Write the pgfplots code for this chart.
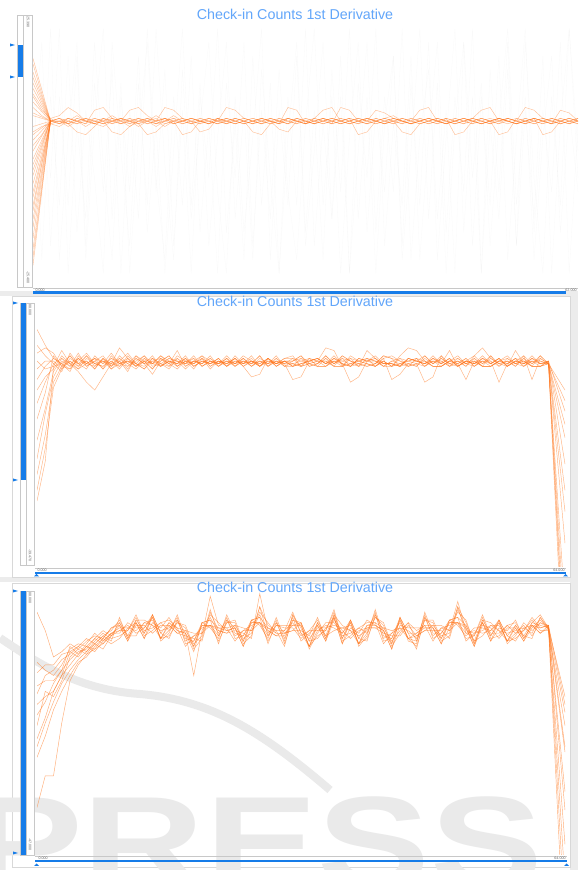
\documentclass[border=0pt]{standalone}
\usepackage{pgfplots}
\pgfplotsset{compat=1.18}
\usepackage{pgfplotstable}
\usepackage{fontspec}
\setmainfont{Liberation Sans}
\definecolor{orl}{RGB}{255,118,28}
\definecolor{bluebar}{RGB}{22,124,232}
\definecolor{titleblue}{RGB}{98,166,250}
\definecolor{bg}{RGB}{236,236,236}
\definecolor{frm}{RGB}{200,200,200}
\definecolor{wm}{RGB}{234,234,234}

\pgfplotstableread{
x a b c d e f g h i j k l m n o p
0 82 75 70 66 57 52 47 41 35 28 18 8 50 20 80 60
1 71 68 65 63 59 56 54 51 48 45 40 35 90 75 10 30
2 61 61 62 61 60 61 61 62 60 61 61 61 15 40 70 95
3 62 60 63 61 59 62 61 60 61 62 60 61 70 95 30 10
4 60 62 66 60 61 60 62 61 59 61 62 60 30 5 85 55
5 61 61 64 62 60 57 61 63 61 60 61 62 85 60 20 90
6 62 60 61 61 62 56 60 61 62 61 59 61 10 25 65 15
7 60 62 61 60 61 59 65 60 61 62 61 60 60 90 40 75
8 61 61 60 62 60 62 66 59 60 61 62 61 95 45 5 35
9 63 60 61 61 61 60 62 61 62 57 61 62 25 10 90 80
10 61 62 62 60 62 61 61 62 61 56 60 60 75 70 50 5
11 59 61 61 62 61 62 60 60 65 59 61 61 5 35 15 65
12 61 60 60 61 59 60 62 61 66 61 62 62 55 85 75 25
13 62 56 62 60 61 61 61 62 63 61 61 60 90 20 30 95
14 60 57 61 61 62 59 60 61 61 63 60 61 35 60 95 40
15 61 60 59 62 60 61 61 66 62 61 62 62 80 5 45 10
16 62 61 61 60 61 63 62 65 61 60 61 60 15 50 10 70
17 61 61 62 61 62 61 60 62 60 61 56 61 65 95 80 30
18 60 62 60 62 61 60 61 61 61 62 57 62 5 30 25 85
19 61 61 61 61 60 62 57 60 62 61 61 61 70 75 60 20
20 62 60 62 60 62 61 58 61 61 60 61 60 40 15 90 60
21 61 62 61 62 61 60 62 62 60 61 60 61 95 55 35 5
22 60 61 60 61 66 62 61 60 61 62 61 62 20 90 5 75
23 61 60 62 60 65 61 60 61 62 61 62 61 60 25 70 40
24 62 61 61 61 62 60 61 62 61 60 61 60 10 65 20 90
25 61 62 60 57 61 61 62 61 60 61 60 61 85 10 55 15
26 60 61 62 56 60 62 61 60 61 62 61 62 30 80 95 65
27 61 60 61 60 62 61 60 61 62 61 62 61 75 40 10 25
28 58 61 60 62 61 60 61 62 61 60 61 60 5 5 65 80
29 57 62 62 61 60 62 62 61 60 66 60 61 55 70 30 35
30 61 61 61 60 62 61 61 60 62 65 61 62 90 30 85 10
31 61 60 60 62 61 60 60 61 61 60 62 61 20 95 15 60
32 60 62 61 61 60 62 61 62 60 61 61 60 65 15 50 95
33 61 61 62 60 61 65 62 61 62 62 60 61 10 60 90 30
34 62 60 60 61 62 66 61 60 61 61 61 62 80 25 25 70
35 61 66 61 62 61 61 60 61 60 60 62 61 35 85 70 5
36 60 65 62 61 60 62 61 62 61 61 61 60 95 5 5 55
37 61 61 61 60 61 61 62 56 62 62 60 61 25 50 75 90
38 62 60 60 62 62 60 61 57 61 61 61 62 70 90 40 20
39 61 61 62 61 61 61 60 61 65 60 62 61 5 20 95 65
40 60 62 61 60 60 62 61 62 64 61 61 60 60 70 15 35
41 61 63 60 62 61 61 62 61 62 62 60 61 85 35 60 85
42 62 61 62 61 62 60 61 60 61 61 61 57 15 95 30 10
43 61 60 61 60 61 62 60 61 60 60 62 56 75 10 85 50
44 60 61 65 62 60 61 61 62 61 61 61 60 30 55 10 95
45 61 62 66 61 61 60 62 61 62 62 60 61 90 80 55 25
46 62 61 61 60 62 61 61 60 61 61 61 62 10 25 90 75
47 61 60 60 62 61 62 60 61 60 60 62 61 55 65 20 5
48 60 61 62 61 60 56 61 62 61 61 61 60 95 5 70 60
49 61 62 61 60 61 57 62 61 62 62 60 61 20 90 35 90
50 62 61 60 62 62 61 61 60 61 61 61 62 70 40 95 15
51 65 60 62 61 61 62 60 61 60 60 62 61 5 75 5 70
52 66 61 61 60 60 61 61 62 61 61 61 60 80 15 60 30
53 61 62 60 62 61 60 62 61 62 62 56 61 35 60 25 85
54 62 61 62 61 62 61 61 60 61 61 57 62 90 95 80 10
55 61 60 61 60 61 62 60 61 60 60 62 61 15 30 15 55
56 60 61 60 62 66 61 61 62 61 61 61 60 65 70 90 95
57 61 62 62 61 65 60 62 61 62 62 60 61 25 10 40 20
58 62 61 61 60 62 61 61 60 61 56 61 62 85 55 5 65
59 61 60 60 62 61 62 60 61 60 57 62 61 5 85 70 35
60 60 65 62 61 60 61 61 62 61 61 61 60 60 20 30 90
61 61 64 61 60 61 60 62 61 62 62 60 61 95 65 95 5
62 61 61 60 62 62 61 61 60 61 61 61 62 40 35 50 60
}\tblA

\pgfplotstableread{
x a b c d e f g h i j k l m n
0 90 84 81 78 75 71 67 62 56 48 41 35 29 25
1 84 80 83 75 78 76 72 70 66 60 58 50 45 40
2 79 77 81 76 78 79 75 77 80 74 72 70 68 76
3 77 79 76 82 75 77 80 74 76 79 78 76 75 77
4 80 76 78 77 79 74 77 81 75 77 76 80 78 75
5 76 78 75 79 77 80 75 77 79 74 81 77 76 79
6 78 81 77 76 80 77 79 75 77 70 76 78 80 77
7 75 77 79 78 76 79 77 80 76 67 78 75 77 79
8 79 76 77 80 78 75 78 77 79 72 75 79 76 78
9 77 79 81 76 77 78 76 79 75 77 80 76 78 75
10 76 78 77 79 83 76 80 77 78 79 77 78 75 77
11 80 75 78 77 79 78 77 76 81 76 79 74 79 78
12 77 79 76 80 76 77 75 79 77 78 76 80 77 76
13 75 77 79 78 78 80 78 77 76 80 78 77 75 79
14 78 80 77 75 77 76 79 73 79 77 75 78 79 77
15 79 76 78 79 80 77 76 78 77 76 79 76 77 80
16 76 78 80 77 78 79 78 80 75 78 77 79 76 77
17 78 77 76 79 76 78 77 76 79 77 82 78 80 75
18 77 79 78 76 79 75 80 78 77 79 76 77 78 78
19 80 76 77 78 77 78 76 79 78 76 78 79 75 77
20 76 78 79 77 80 77 78 76 80 78 77 76 79 79
21 78 77 75 80 78 79 77 78 76 77 79 78 77 76
22 77 79 78 76 76 77 79 77 78 79 76 77 78 78
23 79 76 77 78 79 78 76 80 77 76 78 79 76 77
24 76 80 79 77 77 76 78 77 79 78 77 76 79 79
25 78 77 76 79 80 79 77 78 76 77 79 78 77 76
26 77 78 78 76 78 77 80 76 78 79 76 77 78 72
27 80 76 77 78 76 78 76 79 77 76 78 80 76 73
28 76 79 79 77 79 76 78 77 79 78 77 76 79 79
29 78 77 76 80 77 79 77 78 76 77 79 78 77 76
30 77 78 78 76 78 77 79 76 78 79 76 77 78 78
31 79 76 77 76 78 71 80 77 76 79 78 77 76 78
32 78 77 76 79 80 72 76 78 77 76 79 76 77 80
33 77 78 79 78 77 78 77 79 78 77 76 79 78 76
34 76 79 78 77 76 79 78 76 79 78 77 78 79 77
35 76 77 78 80 79 77 78 76 77 83 80 76 77 79
36 79 78 76 77 76 79 76 78 80 82 77 78 79 77
37 78 77 76 79 80 77 76 78 77 76 79 76 77 80
38 79 76 77 76 78 76 80 77 76 79 78 77 70 78
39 76 79 78 77 76 79 78 76 79 78 77 78 72 77
40 82 78 79 78 77 78 77 79 78 77 76 79 78 76
41 79 78 76 77 76 79 76 78 80 76 77 78 79 77
42 76 77 78 80 79 77 78 76 77 78 80 76 77 79
43 78 77 76 79 80 77 76 78 77 76 79 76 77 71
44 79 76 77 76 78 76 80 77 76 79 78 77 76 73
45 76 79 78 77 76 79 83 76 79 78 77 78 79 77
46 77 78 79 78 77 78 82 79 78 77 76 79 78 76
47 76 77 78 80 70 77 78 76 77 78 80 76 77 79
48 79 78 76 77 72 79 76 78 80 76 77 78 79 77
49 78 77 76 79 80 77 76 78 77 76 79 76 77 80
50 76 79 78 77 76 79 78 76 82 78 77 78 79 77
51 79 76 77 76 78 76 80 77 76 79 78 77 76 78
52 77 78 71 78 77 78 77 79 78 77 76 79 78 76
53 76 77 78 80 79 77 78 76 77 78 80 76 77 79
54 79 78 76 77 76 79 76 78 80 76 83 78 79 77
55 78 77 76 79 80 77 76 78 77 76 79 76 77 80
56 76 79 78 77 76 79 78 70 79 78 77 78 79 77
57 79 76 77 76 78 76 80 77 76 79 78 77 76 78
58 77 82 79 78 77 78 77 79 78 77 76 79 78 76
59 76 77 78 80 79 77 78 76 77 78 80 76 77 79
60 79 78 76 71 76 79 76 78 80 76 77 78 79 77
61 78 77 76 79 80 77 76 78 77 76 79 76 77 80
62 77 77 78 77 77 78 77 77 78 77 77 78 77 77
64 67 63 59 54 49 39 29 21 9 -15 -25 -35 -40 -50
}\tblB

\pgfplotstableread{
x a b c d e f g h i j k l
0 92 73 69 64 61 57 53 49 44 41 37 18
1 85 70 72 66 68 60 58 62 52 50 45 30
2 75 68 72 66 70 62 65 60 62 58 55 30
3 77 72 76 70 74 68 70 66 68 65 62 50
4 80 78 77 79 76 77 74 75 72 70 68 66
5 78 80 79 76 79 75 77 78 76 74 73 72
6 81 79 82 80 77 79 78 76 79 77 75 76
7 83 82 80 84 81 78 82 80 77 80 79 78
8 82 85 83 81 84 82 80 83 81 78 82 80
9 86 83 85 84 82 86 84 81 84 83 80 83
10 88 85 89 86 83 87 84 90 85 88 82 87
11 82 87 83 86 85 81 88 82 85 83 86 81
12 88 84 89 85 91 87 86 88 90 83 88 89
13 82 86 85 88 84 87 86 82 83 88 84 89
14 91 90 86 87 90 84 91 88 85 89 91 87
15 84 82 88 85 82 87 81 86 88 82 84 82
16 88 85 89 86 83 87 84 90 85 88 82 87
17 85 90 86 89 88 84 91 85 88 86 89 84
18 84 80 85 81 87 83 82 84 86 79 84 85
19 77 81 80 83 79 82 81 68 78 83 79 84
20 88 87 83 84 87 81 88 85 82 86 88 84
21 89 87 98 90 87 92 86 91 93 87 89 87
22 86 83 87 84 81 85 82 88 83 86 80 85
23 85 90 86 89 88 84 91 85 88 86 89 84
24 86 82 87 83 89 85 84 86 88 81 86 87
25 79 83 82 85 81 84 83 79 80 85 81 86
26 89 88 84 85 88 82 89 86 83 87 89 85
27 90 88 94 91 88 99 87 92 94 88 90 88
28 86 83 87 84 81 85 82 88 83 86 80 85
29 84 89 85 88 87 83 90 84 87 85 88 83
30 84 80 85 81 87 83 82 84 86 79 84 85
31 85 89 88 91 87 90 89 85 86 91 87 92
32 88 87 83 84 87 81 88 85 82 86 88 84
33 81 79 85 82 79 84 78 83 85 79 81 79
34 88 85 89 86 83 87 84 90 85 88 82 87
35 82 87 83 86 85 81 88 82 85 83 86 81
36 90 86 91 87 93 89 88 90 92 85 90 91
37 80 84 83 86 82 85 84 80 81 86 82 87
38 89 88 84 85 88 82 89 86 83 87 89 85
39 82 80 86 83 80 85 79 84 86 80 82 80
40 87 84 88 85 82 86 83 89 84 87 81 86
41 87 92 88 91 90 86 93 87 90 88 91 86
42 85 81 86 82 88 84 83 85 87 80 85 86
43 78 82 81 84 80 83 82 78 79 84 80 85
44 90 89 85 86 89 83 90 87 84 88 90 86
45 84 82 88 85 82 87 81 86 88 82 84 82
46 84 81 85 82 79 83 80 86 81 84 78 83
47 86 91 87 90 89 85 92 86 89 87 90 85
48 86 82 87 83 89 85 84 86 88 81 86 87
49 80 84 83 86 82 85 84 80 81 86 82 87
50 89 88 84 85 88 82 89 86 83 87 89 85
51 90 88 94 96 88 93 87 92 94 88 90 88
52 87 84 88 85 82 86 83 89 84 87 81 86
53 80 85 81 84 83 79 86 80 83 81 84 79
54 88 84 89 85 91 87 86 88 90 83 88 89
55 81 85 84 87 83 86 85 81 82 87 83 88
56 89 88 84 85 88 82 89 86 83 87 89 85
57 83 81 87 84 81 86 80 85 87 81 83 81
58 87 84 88 85 82 86 83 89 84 87 81 86
59 82 87 83 86 85 81 88 82 85 83 86 81
60 87 83 88 84 90 86 85 87 89 82 87 88
61 84 88 87 90 86 89 88 84 85 90 86 91
62 86 87 86 85 87 86 86 87 85 86 87 86
64 60 57 54 49 41 39 24 17 4 -10 -25 -40
}\tblC

\pgfplotsset{
  panel/.style={scale only axis, hide axis, clip=true, ymin=0, ymax=100},
  oline/.style={orl, line width=0.45pt, opacity=0.55},
  gline/.style={black, line width=0.3pt, opacity=0.025},
}
\newcommand{\tinyl}{\fontsize{3.6}{4}\selectfont\color{black!60}}

\begin{document}
\begin{tikzpicture}
\begin{scope}[x=1pt,y=1pt]
\fill[bg] (0,0) rectangle (578,870);
% panel backgrounds
\fill[white] (0,579) rectangle (578,870);
\fill[white] (0,293) rectangle (570,574);
\draw[frm!70, line width=0.4pt] (12,293) rectangle (570,574);
\fill[white] (0,0) rectangle (570,288);
\draw[frm!70, line width=0.4pt] (12,3) rectangle (570,287);
% watermark in panel 3
\begin{scope}
\clip (0,0) rectangle (570,288);
\draw[wm, line width=8pt] (0,232) .. controls (40,205) and (80,180) .. (140,176) .. controls (210,170) and (260,140) .. (330,80);
\node[anchor=base west, xscale=1.3, text=wm, inner sep=0pt] at (-30,-17) {\fontsize{130}{130}\selectfont\bfseries PRESS};
\end{scope}
% panel 1 decorations
\draw[frm, line width=0.4pt, fill=white] (17,583) rectangle (23,855);
\draw[frm, line width=0.4pt, fill=white] (23,583) rectangle (32,855);
\fill[bluebar] (18,793) rectangle (22.5,825);
\fill[bluebar] (10,826.5) -- (15,825) -- (10,823.5) -- cycle;
\fill[bluebar] (10,794.5) -- (15,793) -- (10,791.5) -- cycle;
\node[rotate=-90, anchor=west, inner sep=0.5pt] at (28,854) {\tinyl 25.390};
\node[rotate=-90, anchor=east, inner sep=0.5pt] at (28,586) {\tinyl -25.480};
% panel 2 decorations
\draw[frm, line width=0.4pt, fill=white] (20.5,305) rectangle (26,567);
\draw[frm, line width=0.4pt, fill=white] (26,305) rectangle (34,567);
\fill[bluebar] (21,390) rectangle (25.5,567);
\fill[bluebar] (13,568.5) -- (18,567) -- (13,565.5) -- cycle;
\fill[bluebar] (13,391.5) -- (18,390) -- (13,388.5) -- cycle;
\node[rotate=-90, anchor=west, inner sep=0.5pt] at (30,566) {\tinyl 88.000};
\node[rotate=-90, anchor=east, inner sep=0.5pt] at (30,308) {\tinyl -39.470};
% panel 3 decorations
\draw[frm, line width=0.4pt, fill=white] (20.5,15) rectangle (26,279);
\draw[frm, line width=0.4pt, fill=white] (26,15) rectangle (34,279);
\fill[bluebar] (21,15) rectangle (25.5,279);
\fill[bluebar] (13,280.5) -- (18,279) -- (13,277.5) -- cycle;
\fill[bluebar] (13,18.5) -- (18,17) -- (13,15.5) -- cycle;
\node[rotate=-90, anchor=west, inner sep=0.5pt] at (30,278) {\tinyl 88.000};
\node[rotate=-90, anchor=east, inner sep=0.5pt] at (30,19) {\tinyl -47.000};
\end{scope}

% ---------- panel 1 ----------
\begin{axis}[panel, at={(33pt,583pt)}, anchor=south west, width=545pt, height=272pt, xmin=0, xmax=62]
\pgfplotsinvokeforeach{m,n,o,p}{\addplot[gline] table[x=x,y=#1]{\tblA};}
\pgfplotsinvokeforeach{84,79,77,73,71,68,64,63,59,56,54,50,45,43,38,33,30,25,22,14,11}{
  \addplot[oline, opacity=0.45] coordinates {(0,#1) (2,61)};}
\pgfplotsinvokeforeach{a,b,c,d,e,f,g,h,i,j,k,l}{\addplot[oline, opacity=0.45] table[x=x,y=#1]{\tblA};}
\end{axis}

% ---------- panel 2 ----------
\begin{axis}[panel, at={(37pt,303pt)}, anchor=south west, width=528pt, height=264pt, xmin=0, xmax=64]
\pgfplotsinvokeforeach{a,b,c,d,e,f,g,h,i,j,k,l,m,n}{\addplot[oline] table[x=x,y=#1]{\tblB};}
\end{axis}

% ---------- panel 3 ----------
\begin{axis}[panel, at={(37pt,15pt)}, anchor=south west, width=528pt, height=264pt, xmin=0, xmax=64]
\pgfplotsinvokeforeach{a,b,c,d,e,f,g,h,i,j,k,l}{\addplot[oline, opacity=0.6] table[x=x,y=#1]{\tblC};}
\end{axis}

\begin{scope}[x=1pt,y=1pt]
% panel 1 axis bottom and title
\draw[frm, line width=0.5pt] (33,582) -- (578,582);
\node[anchor=north west, inner sep=0.3pt] at (35,581.5) {\tinyl 0.000};
\node[anchor=north east, inner sep=0.3pt] at (577,581.5) {\tinyl 62.000};
\draw[bluebar, line width=2.2pt] (33,577.5) -- (566,577.5);
\node[anchor=base, inner sep=0pt] at (295,850) {\fontsize{14.3}{16}\selectfont\color{titleblue}Check-in Counts 1st Derivative};
% panel 2
\draw[frm, line width=0.5pt] (35,302) -- (566,302);
\node[anchor=north west, inner sep=0.3pt] at (37,301.5) {\tinyl 0.000};
\node[anchor=north east, inner sep=0.3pt] at (565,301.5) {\tinyl 64.000};
\draw[bluebar, line width=2.4pt] (35,297) -- (566,297);
\fill[bluebar] (34,293.5) -- (36.5,296) -- (39,293.5) -- cycle;
\fill[bluebar] (563,293.5) -- (565.5,296) -- (568,293.5) -- cycle;
\node[anchor=base, inner sep=0pt] at (295,563) {\fontsize{14.3}{16}\selectfont\color{titleblue}Check-in Counts 1st Derivative};
% panel 3
\draw[frm, line width=0.5pt] (35,14) -- (567,14);
\node[anchor=north west, inner sep=0.3pt] at (38,13.5) {\tinyl 0.000};
\node[anchor=north east, inner sep=0.3pt] at (566,13.5) {\tinyl 64.000};
\draw[bluebar, line width=2.4pt] (35,9) -- (567,9);
\fill[bluebar] (34,4) -- (36.5,6.5) -- (39,4) -- cycle;
\fill[bluebar] (564,4) -- (566.5,6.5) -- (569,4) -- cycle;
\node[anchor=base, inner sep=0pt] at (295,277) {\fontsize{14.3}{16}\selectfont\color{titleblue}Check-in Counts 1st Derivative};
\end{scope}
\end{tikzpicture}
\end{document}
